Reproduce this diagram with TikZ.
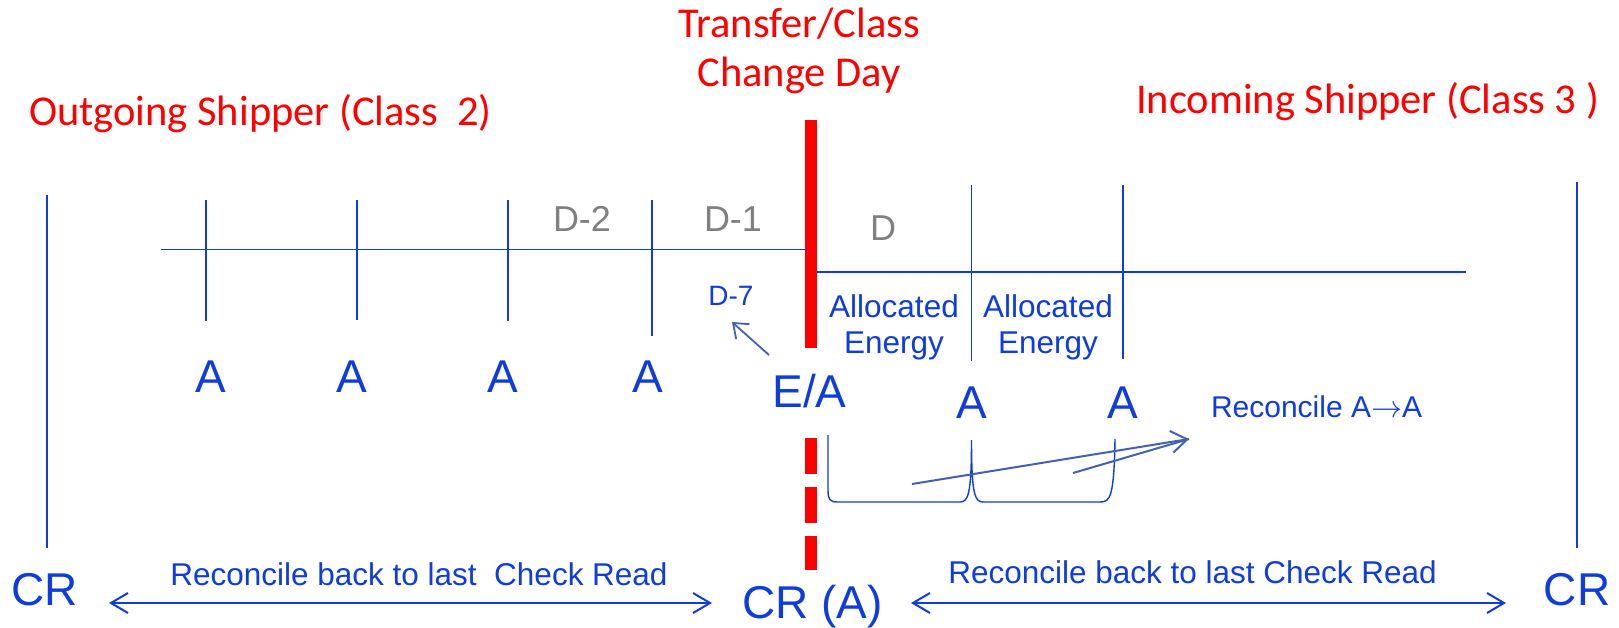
\documentclass[tikz,border=0pt]{standalone}
\usepackage{fontspec}
\setmainfont{Liberation Sans}
\newfontfamily\calfont{Carlito}
\usetikzlibrary{arrows.meta}
\definecolor{myblue}{RGB}{15,60,220}
\definecolor{myred}{RGB}{255,0,0}
\definecolor{mygray}{RGB}{128,128,128}
\definecolor{myslate}{RGB}{68,96,176}
\newcommand\myfs[1]{\fontsize{#1}{#1}\selectfont}
\begin{document}
\begin{tikzpicture}[x=1pt,y=-1pt,
  bline/.style={draw=myblue, line width=1.8pt},
  txt/.style={inner sep=0pt, outer sep=0pt, anchor=base},
  big/.style={txt, text=myblue, font=\myfs{46}},
  mid/.style={txt, text=myblue, font=\myfs{31.5}},
  small/.style={txt, text=myblue, font=\myfs{28}},
  grayd/.style={txt, text=mygray, font=\myfs{36}},
  redt/.style={txt, text=myred, font=\calfont\myfs{42.5}},
  redbar/.style={draw=myred, line width=12pt},
  slatearrow/.style={draw=myslate, line width=2pt, -{Straight Barb[length=16pt,width=22pt,line width=2pt]}},
  slateline/.style={draw=myslate, line width=2pt},
  dblarrow/.style={draw=myblue, line width=2pt, {Straight Barb[length=17pt,width=20pt,line width=2pt]}-{Straight Barb[length=17pt,width=20pt,line width=2pt]}}
]
\fill[white] (0,0) rectangle (1619,627);
\useasboundingbox (0,0) rectangle (1619,627);

% titles
\node[redt] (t1) at (799,37) {Transfer/Class};
\node[redt] (t2) at (799,86) {Change Day};
\node[redt, anchor=base west] (out) at (29,125) {Outgoing Shipper (Class\ \ 2)};
\node[redt, anchor=base west] (inc) at (1136,113) {Incoming Shipper (Class 3 )};

% coordinates
\coordinate (lvt) at (47,195);   \coordinate (lvb) at (47,548);
\coordinate (rvt) at (1577,182); \coordinate (rvb) at (1577,548);
\coordinate (tlA) at (161,249.5); \coordinate (tlB) at (811,249.5);
\coordinate (trA) at (816,271.7); \coordinate (trB) at (1466,271.7);
\coordinate (k1t) at (206,200); \coordinate (k1b) at (206,321);
\coordinate (k2t) at (357,200); \coordinate (k2b) at (357,320);
\coordinate (k3t) at (508,200); \coordinate (k3b) at (508,321);
\coordinate (k4t) at (652,200); \coordinate (k4b) at (652,336);
\coordinate (k5t) at (971.5,185); \coordinate (k5b) at (971.5,361);
\coordinate (k6t) at (1123,185); \coordinate (k6b) at (1123,359);
\coordinate (rst) at (811,120); \coordinate (rsb) at (811,348);
\coordinate (rdt) at (811,438); \coordinate (rdb) at (811,570);

% blue structure lines
\draw[bline] (lvt) -- (lvb);
\draw[bline] (rvt) -- (rvb);
\draw[bline] (tlA) -- (tlB);
\draw[bline] (trA) -- (trB);
\draw[bline] (k1t) -- (k1b);
\draw[bline] (k2t) -- (k2b);
\draw[bline] (k3t) -- (k3b);
\draw[bline] (k4t) -- (k4b);
\draw[bline] (k5t) -- (k5b);
\draw[bline] (k6t) -- (k6b);

% red transfer line
\draw[redbar] (rst) -- (rsb);
\draw[redbar, dash pattern=on 36pt off 13pt] (rdt) -- (rdb);

% gray day labels
\node[grayd] (d2) at (582,231) {D-2};
\node[grayd] (d1) at (733,231) {D-1};
\node[grayd] (d0) at (883,240) {D};

% A labels
\node[big] (a1) at (211,392) {A};
\node[big] (a2) at (352,392) {A};
\node[big] (a3) at (503,392) {A};
\node[big] (a4) at (648,392) {A};
\node[big] (ea) at (809.5,407) {E/A};
\node[big] (a5) at (971.5,418) {A};
\node[big] (a6) at (1123,418) {A};

% D-7
\node[small] (d7) at (731,305) {D-7};
\coordinate (d7s) at (769,355);
\coordinate (d7e) at (732,322);
\draw[draw=myslate, line width=1.8pt, -{Straight Barb[length=13pt,width=20pt,line width=1.8pt]}] (d7s) -- (d7e);

% allocated energy
\node[mid] (al1) at (894,317) {Allocated};
\node[mid] (en1) at (894,353) {Energy};
\node[mid] (al2) at (1048,317) {Allocated};
\node[mid] (en2) at (1048,353) {Energy};

% bracket
\draw[draw=myblue, line width=1.4pt] (828,435) -- (828,490) .. controls (828,500) and (830,502) .. (838,502)
  -- (960,502) .. controls (968,502) and (971.5,495) .. (971.5,440)
  .. controls (971.5,495) and (975,502) .. (983,502)
  -- (1100,502) .. controls (1110,502) and (1114,498) .. (1115,439);

% reconcile A->A arrows
\coordinate (rs1) at (912,484);
\coordinate (rs2) at (1073,473);
\coordinate (rtip) at (1189,439);
\draw[slateline] (rs2) -- (rtip);
\draw[slatearrow] (rs1) -- (rtip);
\node[txt, text=myblue, font=\myfs{30}, anchor=base west] (rec) at (1211,417) {Reconcile A\scalebox{1.25}{$\rightarrow$}A};

% bottom
\node[big] (crl) at (44.5,605) {CR};
\node[big] (crm) at (812.5,618) {CR (A)};
\node[big] (crr) at (1577,605) {CR};
\node[mid] (bl) at (419,585) {Reconcile back to last\ \ Check Read};
\node[mid] (br) at (1192.5,583) {Reconcile back to last Check Read};
\coordinate (bla) at (109,603); \coordinate (blb) at (712,603);
\coordinate (bra) at (911,603); \coordinate (brb) at (1506,603);
\draw[dblarrow] (bla) -- (blb);
\draw[dblarrow] (bra) -- (brb);
\end{tikzpicture}
\end{document}
